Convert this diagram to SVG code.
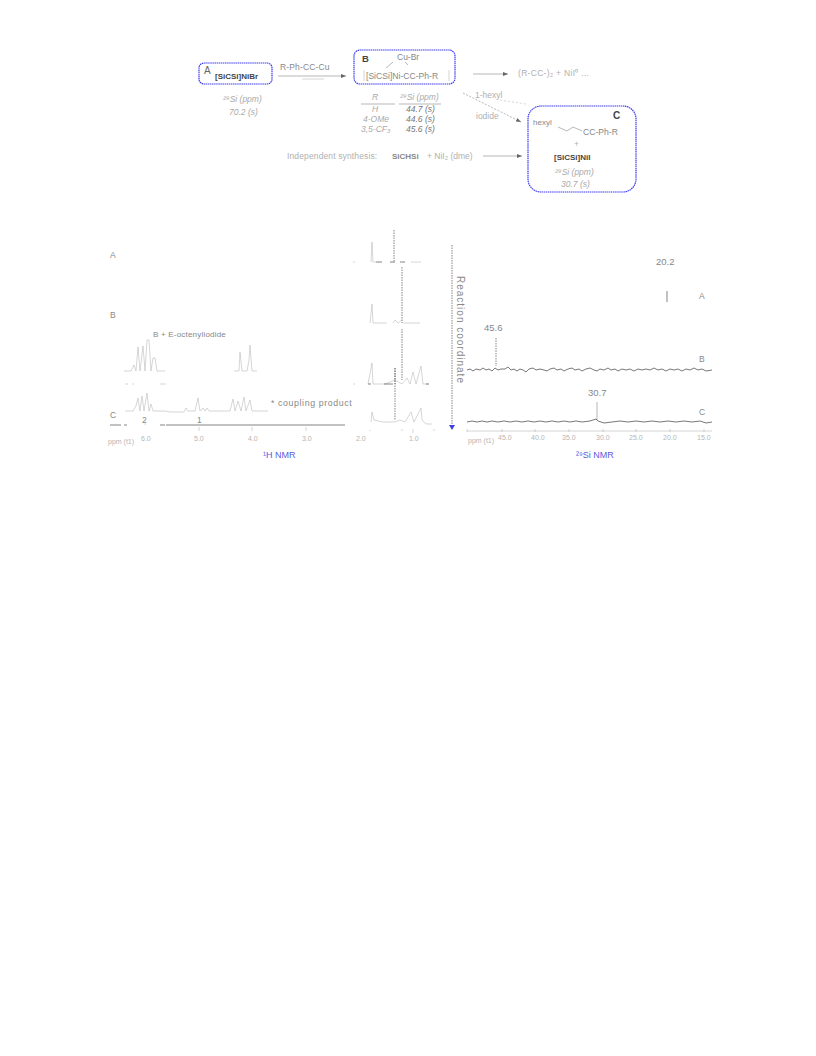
<svg xmlns="http://www.w3.org/2000/svg" width="816" height="1056" viewBox="0 0 816 1056">
<style>
text{font-family:"Liberation Sans",Arial,sans-serif;font-size:8.5px;fill:#555}
.f{fill:#b0b0b0}
.m{fill:#888}
.b{font-weight:bold;fill:#444}
.i{font-style:italic;fill:#aaa}
.l{font-size:10px;fill:#666}
.u{fill:#5a5ae0;font-size:9px}
.t{font-size:7px;fill:#b5b5b5}
.box{fill:none;stroke:#3c3cf0;stroke-width:1.2;stroke-dasharray:1.5 .6}
.c{fill:none;stroke:#999;stroke-width:.7}
.s{fill:none;stroke:#bbb;stroke-width:.6}
.d{fill:none;stroke:#666;stroke-width:.8;stroke-dasharray:1.5 1}
.k{fill:none;stroke:#666;stroke-width:.8}
.n{fill:none;stroke:#555;stroke-width:.8}
</style>
<defs>
<marker id="a" markerWidth="5" markerHeight="4" refX="5" refY="2" orient="auto" markerUnits="userSpaceOnUse"><path d="M0 0L5 2L0 4z" fill="#666"/></marker>
</defs>

<g id="connectors">
<path class="c" style="marker-end:url(#a)" d="M278 76H346"/>
<path class="s" d="M302 79H324"/>
<path class="c" style="marker-end:url(#a)" d="M473 74H508"/>
<path class="c" stroke-dasharray="2 1.500" style="marker-end:url(#a)" d="M463 93L521 122"/>
<path class="s" stroke-dasharray="2 2" d="M500 100L526 104V106"/>
<path class="c" style="marker-end:url(#a)" d="M483 156H522"/>
</g>

<g id="node-a">
<rect class="box" x="199" y="63" width="73" height="21" rx="5"/>
<text x="204" y="74" class="l">A</text>
<text x="215" y="79" class="b" style="font-size:8px">[SiCSi]NiBr</text>
<text x="223" y="102" class="i">²⁹Si (ppm)</text>
<text x="229" y="115" class="i">70.2 (s)</text>
</g>
<text x="280" y="70" class="m" style="letter-spacing:.15px">R-Ph-CC-Cu</text>

<g id="node-b">
<rect class="box" x="354" y="50" width="101" height="34" rx="6"/>
<text x="362" y="62" class="b" style="font-size:9.500px">B</text>
<text x="397" y="60" class="m">Cu-Br</text>
<path class="c" d="M393 62L386 68M405 62L408 65"/>
<text x="366" y="79" class="m" style="font-size:8.600px">[SiCSi]Ni-CC-Ph-R</text>
<path class="s" d="M364 70V81M449 70V81"/>
<text x="372" y="100" class="i">R</text>
<text x="400" y="100" class="i">²⁹Si (ppm)</text>
<path class="c" d="M361 104H395M399 104H441"/>
<text x="372" y="112" class="i">H</text><text x="406" y="112" class="i" style="fill:#777">44.7 (s)</text>
<text x="363" y="122" class="i">4-OMe</text><text x="406" y="122" class="i" style="fill:#777">44.6 (s)</text>
<text x="361" y="132" class="i">3,5-CF₃</text><text x="406" y="132" class="i" style="fill:#777">45.6 (s)</text>
</g>

<text x="518" y="76" class="f" style="letter-spacing:.3px">(R-CC-)₂ + NiI⁰ ...</text>
<text x="475" y="98" class="f">1-hexyl</text>
<text x="476" y="119" class="f">iodide</text>
<text x="287" y="159" class="f" style="letter-spacing:.13px">Independent synthesis:</text>
<text x="392" y="159" class="m" style="font-weight:bold;font-size:8px">SiCHSi</text>
<text x="427" y="159" class="f">+ NiI₂ (dme)</text>

<g id="node-c">
<rect class="box" x="528" y="106" width="108" height="86" rx="13"/>
<text x="613" y="119" class="b" style="font-size:10px">C</text>
<text x="533" y="125" class="m" style="font-size:8px">hexyl</text>
<path class="c" d="M558 127L567 131L573 127L582 131"/>
<text x="583" y="135" class="m" style="font-size:8.600px">CC-Ph-R</text>
<text x="574" y="147" class="f">+</text>
<text x="554" y="160" class="b" style="font-size:8px">[SiCSi]NiI</text>
<text x="555" y="175" class="i">²⁹Si (ppm)</text>
<text x="561" y="187" class="i">30.7 (s)</text>
</g>

<g id="spectra-1h">
<text x="110" y="258" class="m">A</text>
<text x="110" y="318" class="m">B</text>
<text x="110" y="418" class="m">C</text>
<text x="153" y="337" class="m" style="font-size:8px;letter-spacing:.2px">B + E-octenyliodide</text>
<path class="s" d="M124 371H131L134 365L136 371L138 347L140 371L143 346L145 371L147 340L149 340L151 371L153 358L155 358L157 371H165"/>
<path class="s" d="M234 371H239L240 352L242 371H247L249 360L250 345L252 371H257"/>
<path class="s" d="M125 384H128M132 384H134M160 384H166"/>
<path class="s" d="M125 411H133L136 406L138 398L140 411L142 396L144 411L147 393L149 411L151 404L153 411H165L170 412H184L186 408L188 411H195L198 398L200 411L203 408L205 411L207 408L209 411H230L233 399L235 411L238 401L241 411L244 397L246 411L250 400L252 411H268"/>
<text x="271" y="406" class="m" style="letter-spacing:.6px;font-size:8.800px">* coupling product</text>
<text x="142" y="423" class="m">2</text>
<text x="197" y="423" class="m">1</text>
<path class="k" d="M110 425H121M124 425H127M160 425H165M166 425H345"/>
<path class="s" d="M145 420V425M199 427V431M252 427V431M306 427V431"/>
<text x="108" y="444" class="t">ppm (t1)</text>
<text x="141" y="441" class="t">6.0</text>
<text x="194" y="441" class="t">5.0</text>
<text x="248" y="441" class="t">4.0</text>
<text x="302" y="441" class="t">3.0</text>
<text x="356" y="441" class="t">2.0</text>
<text x="409" y="441" class="t">1.0</text>
<text x="263" y="458" class="u">¹H NMR</text>

<path class="s" d="M353 262H355M371 262L372 242L373 262H376"/>
<path class="k" d="M376 262H382M390 262H395M400 262H405"/>
<path class="d" d="M394 230V262"/>
<path class="s" d="M411 262H421"/>
<path class="s" d="M370 323L372 304L373 323H387M393 323L395 320L398 323L402 320M403 323H420"/>
<path class="d" d="M402 267V323"/>
<path class="s" d="M353 384H355M368 384L372 363L373 384H385L395 380L402 384L407 378L410 384L413 372L416 384L421 366L423 384H428"/>
<path class="k" d="M368 384H371M384 384H393M426 384H429"/>
<path class="d" d="M402 329V380M395 368V384"/>
<path class="s" d="M371 422L372 412L374 420L378 421L383 422H395L400 420L405 422L411 412L414 422L421 408L422 420L426 424H432"/>
<path class="d" d="M395 368V420"/>
<path class="s" d="M370 430V431M402 429V431M413 429V433M434 429V431"/>
</g>

<g id="reaction-coordinate">
<path class="d" d="M452 245V426"/>
<path d="M449 425H455L452 430z" fill="#4040e0"/>
<text transform="translate(457 276) rotate(90)" class="m" style="font-size:10px;letter-spacing:1px">Reaction coordinate</text>
</g>

<g id="spectra-29si">
<text x="656" y="265" class="m" style="font-size:9.500px">20.2</text>
<path class="k" d="M667 291V302"/>
<text x="699" y="299" class="m">A</text>
<text x="484" y="331" class="m" style="font-size:9.500px">45.6</text>
<path class="d" d="M496 338V366"/>
<text x="699" y="362" class="m">B</text>
<path class="n" d="M467 370L470 369L473 371L476 369L480 370L483 368L486 370L489 369L492 371L495 368L498 370L501 369L505 369L508 367L511 370L514 369L517 371L520 369L523 370L526 372L529 369L533 368L536 370L540 369L544 370L547 371L550 369L554 368L557 370L561 369L564 371L568 369L572 368L575 370L579 369L582 371L586 369L590 368L594 370L597 371L600 369L604 370L608 368L611 370L615 369L618 371L622 369L626 370L630 369L634 371L638 369L642 370L646 369L650 370L654 368L658 370L662 369L666 371L670 369L674 370L678 369L682 371L686 369L690 370L694 368L698 370L702 369L706 371L712 370"/>
<text x="588" y="396" class="m" style="font-size:9.500px">30.7</text>
<path class="c" d="M597 402V420"/>
<text x="699" y="415" class="m">C</text>
<path class="n" d="M467 422L472 421L477 422L482 421L487 422L492 421L498 422L504 421L510 422L516 421L522 422L528 421L534 422L540 421L546 422L552 421L558 422L564 421L570 422L576 421L582 422L590 421L596 419L598 421L604 423L612 422L620 421L628 422L636 421L644 422L652 421L660 422L668 421L676 422L684 421L692 422L700 421L706 423L712 422"/>
<path class="s" d="M467 431H712M467 429V432M502 429V432M535 429V432M569 429V432M603 429V432M636 429V432M670 429V432M704 429V432"/>
<text x="468" y="443" class="t">ppm (t1)</text>
<text x="498" y="440" class="t">45.0</text>
<text x="531" y="440" class="t">40.0</text>
<text x="562" y="440" class="t">35.0</text>
<text x="596" y="440" class="t">30.0</text>
<text x="629" y="440" class="t">25.0</text>
<text x="663" y="440" class="t">20.0</text>
<text x="697" y="440" class="t">15.0</text>
<text x="576" y="458" class="u">²⁹Si NMR</text>
</g>
</svg>
